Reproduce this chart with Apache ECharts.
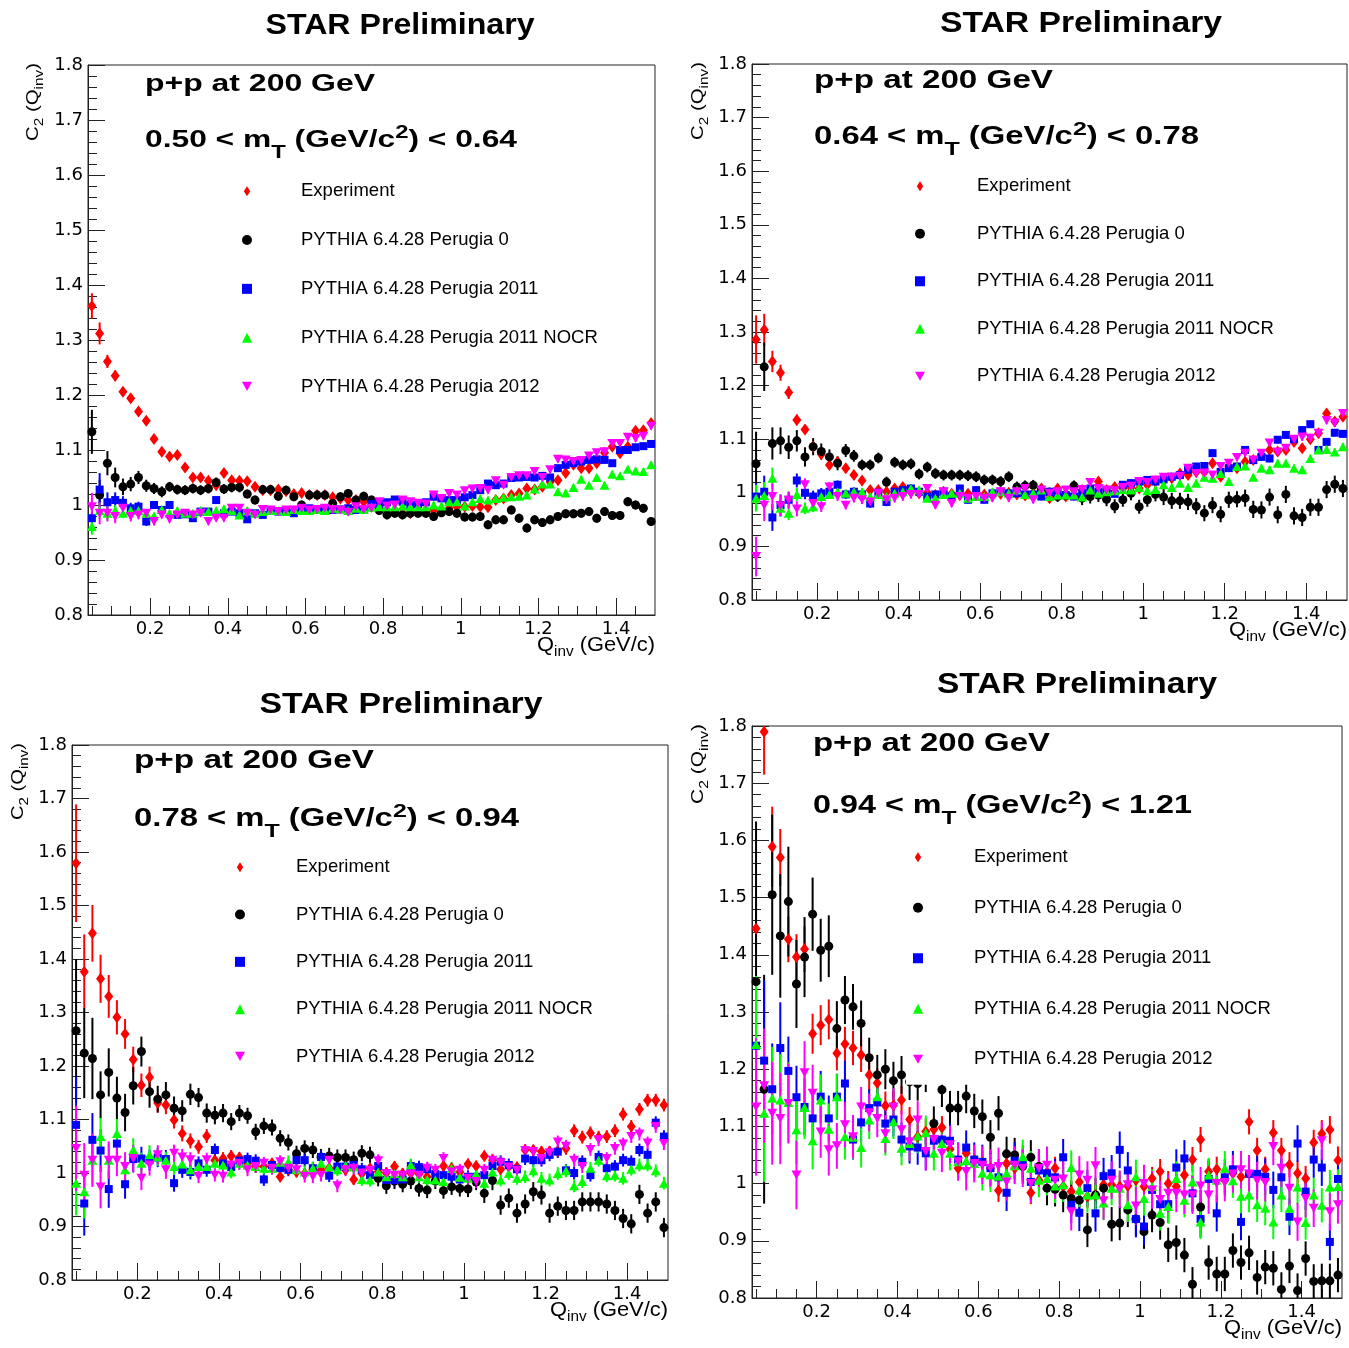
<!DOCTYPE html>
<html><head><meta charset="utf-8">
<script src="https://cdn.jsdelivr.net/npm/echarts@6/dist/echarts.min.js"></script>
<style>html,body{margin:0;padding:0;background:#fff}#c{width:1349px;height:1348px}</style>
</head><body><div id="c"></div>
<script>
// ---------------- DATA ----------------
const qBins = [0.05,0.07,0.09,0.11,0.13,0.15,0.17,0.19,0.21,0.23,
0.25,0.27,0.29,0.31,0.33,0.35,0.37,0.39,0.41,0.43,
0.45,0.47,0.49,0.51,0.53,0.55,0.57,0.59,0.61,0.63,
0.65,0.67,0.69,0.71,0.73,0.75,0.77,0.79,0.81,0.83,
0.85,0.87,0.89,0.91,0.93,0.95,0.97,0.99,1.01,1.03,
1.05,1.07,1.09,1.11,1.13,1.15,1.17,1.19,1.21,1.23,
1.25,1.27,1.29,1.31,1.33,1.35,1.37,1.39,1.41,1.43,
1.45,1.47,1.49];
const seriesNames = ['Experiment','PYTHIA 6.4.28 Perugia 0','PYTHIA 6.4.28 Perugia 2011','PYTHIA 6.4.28 Perugia 2011 NOCR','PYTHIA 6.4.28 Perugia 2012'];
const xMajorTicks = [0.2,0.4,0.6,0.8,1.0,1.2,1.4];
const xMinorTicks = [0.05,0.1,0.15,0.25,0.3,0.35,0.45,0.5,0.55,0.65,0.7,0.75,0.85,0.9,0.95,1.05,1.1,1.15,1.25,1.3,1.35,1.45];
const mtLow = ['0.50','0.64','0.78','0.94'];
const mtHigh = ['0.64','0.78','0.94','1.21'];

// Panel 1 : 0.50 < mT < 0.64
const p1Exp = [1.362,1.312,1.261,1.235,1.206,1.194,1.170,1.153,1.120,1.097,
1.088,1.091,1.068,1.050,1.050,1.044,1.036,1.058,1.045,1.044,
1.043,1.033,1.027,1.027,1.028,1.025,1.020,1.022,1.018,1.018,
1.018,1.014,1.012,1.009,1.009,1.006,1.005,0.994,0.990,0.988,
0.985,0.985,0.988,0.988,0.990,0.990,0.994,0.997,0.997,0.998,
0.997,0.996,1.009,1.012,1.018,1.021,1.030,1.028,1.033,1.042,
1.045,1.058,1.073,1.067,1.067,1.076,1.095,1.106,1.094,1.106,
1.135,1.136,1.149];
const p1P0 = [1.133,1.018,1.076,1.050,1.033,1.038,1.050,1.035,1.030,1.024,
1.033,1.028,1.027,1.030,1.027,1.030,1.041,1.029,1.032,1.032,
1.020,1.009,1.028,1.028,1.016,1.027,1.015,1.000,1.018,1.018,
1.018,1.003,1.015,1.021,1.009,1.016,1.009,0.990,0.982,0.985,
0.982,0.985,0.985,0.985,0.979,0.986,0.988,0.985,0.978,0.978,
0.979,0.964,0.973,0.973,0.991,0.976,0.958,0.973,0.968,0.973,
0.979,0.984,0.984,0.985,0.988,0.976,0.988,0.981,0.981,1.006,
1.000,0.994,0.970];
const p1P11 = [0.976,1.028,1.005,1.009,1.004,0.994,0.997,0.970,1.000,0.991,
1.000,0.982,0.983,0.976,0.988,0.988,1.009,0.985,0.988,0.985,
0.974,0.985,0.982,0.991,0.988,0.988,0.985,0.991,0.994,0.992,
0.994,0.991,0.992,0.994,0.991,0.992,1.002,1.002,1.005,1.010,
1.006,1.000,1.002,1.005,1.015,1.012,1.009,1.009,1.014,1.018,
1.027,1.039,1.036,1.039,1.049,1.050,1.051,1.050,1.053,1.050,
1.067,1.073,1.076,1.079,1.082,1.083,1.082,1.076,1.100,1.100,
1.105,1.107,1.111];
const p1NOCR = [0.961,0.990,0.985,0.990,0.985,0.990,0.990,0.985,0.980,0.992,
0.985,0.990,0.985,0.985,0.990,0.988,0.990,0.993,0.990,0.982,
0.990,0.985,0.988,0.990,0.990,0.988,0.992,0.990,0.990,0.992,
0.990,0.994,0.993,0.990,0.994,0.992,0.996,0.997,0.997,0.997,
0.998,0.997,0.997,0.997,1.000,0.998,1.006,1.006,0.998,1.006,
1.012,1.009,1.012,1.014,1.015,1.016,1.018,1.029,1.038,1.038,
1.024,1.022,1.032,1.047,1.036,1.050,1.036,1.056,1.053,1.065,
1.062,1.061,1.073];
const p1P12 = [0.997,0.985,0.985,0.979,0.994,0.979,0.982,0.985,0.970,0.982,
0.974,0.982,0.985,0.982,0.985,0.970,0.976,0.976,0.994,0.994,
0.985,0.982,0.992,0.991,0.988,0.991,0.991,0.994,0.991,0.992,
0.994,0.992,0.991,0.987,0.997,0.992,0.994,1.006,0.998,1.000,
1.009,1.006,1.003,1.002,1.018,1.012,1.021,1.018,1.026,1.029,
1.030,1.027,1.044,1.036,1.050,1.053,1.053,1.061,1.050,1.064,
1.083,1.082,1.079,1.081,1.089,1.095,1.097,1.112,1.112,1.123,
1.121,1.125,1.143];
const p1ExpErr = [.023,.020,.012,.010,.008,.008,.007,.007,.006,.006,
.005,.005,.005,.005,.005,.005,.005,.005,.005,.005,
.005,.005,.005,.005,.005,.005,.005,.005,.005,.005,
.005,.005,.005,.005,.005,.005,.005,.005,.005,.005,
.005,.005,.005,.005,.005,.005,.005,.005,.005,.005,
.005,.005,.005,.005,.005,.005,.005,.005,.005,.005,
.006,.006,.006,.006,.006,.006,.006,.006,.006,.006,
.006,.006,.006];
const p1P0Err = [.040,.028,.022,.018,.015,.013,.012,.011,.010,.010,
.009,.009,.009,.009,.009,.009,.009,.009,.009,.009,
.008,.008,.008,.008,.008,.008,.008,.008,.008,.008,
.008,.008,.008,.008,.008,.008,.008,.008,.008,.008,
.008,.008,.008,.008,.008,.008,.008,.008,.008,.008,
.008,.008,.008,.008,.008,.008,.008,.008,.008,.008,
.008,.008,.008,.008,.008,.008,.008,.008,.008,.008,
.008,.008,.008];
const p1P11Err = [.012,.030,.018,.014,.012,.010,.009,.008,.007,.007,
.006,.006,.006,.006,.006,.006,.006,.006,.006,.006,
.006,.006,.006,.006,.006,.006,.006,.006,.006,.006,
.006,.006,.006,.006,.006,.006,.006,.006,.006,.006,
.006,.006,.006,.006,.006,.006,.006,.006,.006,.006,
.006,.006,.006,.006,.006,.006,.006,.006,.006,.006,
.006,.006,.006,.006,.006,.006,.006,.006,.006,.006,
.006,.006,.006];
const p1NOCRErr = [.015,.014,.012,.010,.009,.008,.007,.007,.006,.006,
.006,.006,.006,.006,.006,.006,.006,.006,.006,.006,
.006,.006,.006,.006,.006,.006,.006,.006,.006,.006,
.006,.006,.006,.006,.006,.006,.006,.006,.006,.006,
.006,.006,.006,.006,.006,.006,.006,.006,.006,.006,
.006,.006,.006,.006,.006,.006,.006,.006,.006,.006,
.006,.006,.006,.006,.006,.006,.006,.006,.006,.006,
.006,.006,.006];
const p1P12Err = [.025,.020,.015,.012,.010,.009,.008,.007,.007,.006,
.006,.006,.006,.006,.006,.006,.006,.006,.006,.006,
.006,.006,.006,.006,.006,.006,.006,.006,.006,.006,
.006,.006,.006,.006,.006,.006,.006,.006,.006,.006,
.006,.006,.006,.006,.006,.006,.006,.006,.006,.006,
.006,.006,.006,.006,.006,.006,.006,.006,.006,.006,
.006,.006,.006,.006,.006,.006,.006,.006,.006,.006,
.006,.006,.006];

// Panel 2 : 0.64 < mT < 0.78
const p2Exp = [1.286,1.304,1.245,1.224,1.187,1.136,1.118,1.086,1.072,1.052,
1.058,1.046,1.033,1.023,1.005,1.005,1.002,1.008,1.011,1.002,
0.999,1.000,0.996,1.002,0.998,0.996,0.998,1.000,0.997,0.996,
0.998,1.000,0.997,0.995,0.998,1.008,0.990,1.008,0.993,1.006,
1.005,0.999,1.021,1.005,1.011,1.008,1.010,1.008,1.015,1.021,
1.024,1.027,1.036,1.033,1.039,1.039,1.055,1.030,1.049,1.046,
1.058,1.061,1.070,1.080,1.077,1.080,1.095,1.083,1.100,1.111,
1.148,1.133,1.142];
const p2P0 = [1.054,1.235,1.092,1.097,1.085,1.097,1.067,1.086,1.077,1.067,
1.055,1.079,1.069,1.052,1.052,1.065,1.020,1.057,1.052,1.054,
1.035,1.048,1.036,1.033,1.033,1.033,1.032,1.030,1.024,1.024,
1.021,1.030,1.011,1.013,1.014,1.005,1.000,0.993,0.995,1.013,
0.990,0.993,0.996,0.988,0.975,0.987,0.999,0.974,0.987,0.997,
0.992,0.985,0.985,0.983,0.975,0.962,0.977,0.960,0.987,0.988,
0.990,0.969,0.968,0.992,0.959,0.997,0.957,0.954,0.973,0.973,
1.006,1.016,1.008];
const p2P11 = [0.993,1.002,0.954,0.977,0.987,1.023,1.000,0.993,0.999,1.002,
1.015,0.997,1.002,0.997,0.980,1.000,0.983,1.002,1.005,1.008,
1.002,0.993,0.997,1.002,0.993,1.008,0.987,1.005,0.987,0.999,
1.002,0.999,0.999,0.997,0.997,0.993,1.002,0.999,0.996,0.993,
0.999,1.008,1.002,1.004,0.998,1.015,1.018,1.021,1.024,1.021,
1.025,1.030,1.033,1.043,1.049,1.050,1.074,1.039,1.046,1.049,
1.080,1.061,1.067,1.064,1.099,1.108,1.100,1.117,1.128,1.080,
1.095,1.112,1.110];
const p2NOCR = [0.990,0.995,1.027,0.971,0.962,0.997,0.971,0.974,0.993,0.997,
1.002,0.999,1.002,1.002,0.993,0.997,0.993,0.999,1.002,1.008,
1.005,0.990,0.990,0.997,0.999,0.999,0.990,0.993,0.993,1.002,
1.002,0.999,1.005,0.997,0.999,1.005,0.993,0.996,0.996,0.996,
0.992,1.005,0.999,1.002,1.004,1.006,1.005,1.010,1.004,1.006,
1.015,1.010,1.018,1.010,1.018,1.029,1.027,1.036,1.021,1.049,
1.050,1.029,1.046,1.043,1.055,1.055,1.046,1.043,1.064,1.080,
1.081,1.076,1.086];
const p2P12 = [0.881,0.977,0.993,0.976,0.986,0.970,1.015,0.980,0.974,1.011,
0.993,0.977,0.990,0.987,0.983,0.999,0.987,0.990,0.993,0.997,
0.997,1.008,0.977,1.002,0.980,0.993,0.990,0.993,0.990,0.990,
1.002,0.990,1.002,1.008,0.987,1.005,0.999,1.002,1.005,1.002,
1.006,1.019,1.008,1.005,1.004,1.010,1.012,1.021,1.019,1.024,
1.029,1.029,1.031,1.046,1.036,1.037,1.033,1.049,1.055,1.066,
1.074,1.061,1.074,1.093,1.076,1.083,1.100,1.104,1.102,1.111,
1.135,1.130,1.148];
const p2ExpErr = [.045,.030,.020,.015,.012,.010,.009,.008,.007,.007,
.006,.006,.006,.006,.006,.006,.006,.006,.006,.006,
.005,.005,.005,.005,.005,.005,.005,.005,.005,.005,
.005,.005,.005,.005,.005,.005,.005,.005,.005,.005,
.005,.005,.005,.005,.005,.005,.005,.005,.005,.005,
.005,.005,.005,.005,.005,.005,.005,.005,.005,.005,
.006,.006,.006,.006,.006,.006,.006,.006,.006,.006,
.006,.006,.006];
const p2P0Err = [.060,.045,.030,.025,.022,.020,.018,.016,.015,.014,
.013,.012,.011,.010,.010,.010,.010,.010,.010,.010,
.010,.010,.010,.010,.010,.010,.010,.010,.010,.010,
.010,.010,.010,.010,.010,.010,.010,.010,.010,.010,
.013,.013,.013,.013,.013,.013,.013,.013,.013,.013,
.015,.015,.015,.015,.015,.015,.015,.015,.015,.015,
.016,.016,.016,.016,.016,.016,.016,.016,.016,.016,
.016,.016,.016];
const p2P11Err = [.025,.030,.025,.020,.015,.013,.012,.011,.010,.009,
.008,.008,.008,.008,.008,.008,.008,.008,.008,.008,
.007,.007,.007,.007,.007,.007,.007,.007,.007,.007,
.007,.007,.007,.007,.007,.007,.007,.007,.007,.007,
.007,.007,.007,.007,.007,.007,.007,.007,.007,.007,
.007,.007,.007,.007,.007,.007,.007,.007,.007,.007,
.007,.007,.007,.007,.007,.007,.007,.007,.007,.007,
.007,.007,.007];
const p2NOCRErr = [.025,.025,.020,.016,.013,.012,.011,.010,.009,.008,
.007,.007,.007,.007,.007,.007,.007,.007,.007,.007,
.007,.007,.007,.007,.007,.007,.007,.007,.007,.007,
.007,.007,.007,.007,.007,.007,.007,.007,.007,.007,
.007,.007,.007,.007,.007,.007,.007,.007,.007,.007,
.007,.007,.007,.007,.007,.007,.007,.007,.007,.007,
.007,.007,.007,.007,.007,.007,.007,.007,.007,.007,
.007,.007,.007];
const p2P12Err = [.037,.030,.025,.020,.016,.014,.012,.011,.010,.009,
.008,.008,.008,.008,.008,.008,.008,.008,.008,.008,
.007,.007,.007,.007,.007,.007,.007,.007,.007,.007,
.007,.007,.007,.007,.007,.007,.007,.007,.007,.007,
.007,.007,.007,.007,.007,.007,.007,.007,.007,.007,
.007,.007,.007,.007,.007,.007,.007,.007,.007,.007,
.007,.007,.007,.007,.007,.007,.007,.007,.007,.007,
.007,.007,.007];

// Panel 3 : 0.78 < mT < 0.94
const p3Exp = [1.579,1.376,1.448,1.363,1.330,1.291,1.260,1.212,1.164,1.179,
1.131,1.127,1.099,1.074,1.060,1.049,1.069,1.024,1.027,1.032,
1.029,1.018,1.012,1.012,1.018,0.993,1.006,1.002,0.999,1.006,
1.006,1.009,1.009,1.006,0.988,0.999,1.009,1.002,1.000,1.012,
0.999,1.000,0.998,0.993,0.999,1.013,1.009,1.002,1.017,1.013,
1.032,1.024,1.007,1.012,1.011,1.043,1.043,1.040,1.040,1.040,
1.046,1.079,1.067,1.075,1.067,1.068,1.079,1.110,1.087,1.119,
1.136,1.136,1.127];
const p3P0 = [1.266,1.224,1.214,1.146,1.188,1.140,1.113,1.163,1.227,1.152,
1.138,1.146,1.121,1.116,1.147,1.141,1.112,1.108,1.112,1.096,
1.112,1.107,1.077,1.088,1.085,1.065,1.057,1.036,1.046,1.043,
1.030,1.032,1.029,1.029,1.025,1.037,1.034,0.990,0.976,0.985,
0.979,0.985,0.971,0.968,0.985,0.967,0.974,0.971,0.970,0.983,
0.962,0.986,0.940,0.953,0.925,0.942,0.965,0.959,0.925,0.938,
0.930,0.930,0.946,0.946,0.946,0.942,0.930,0.915,0.905,0.960,
0.925,0.946,0.898];
const p3P11 = [1.090,0.943,1.062,1.042,0.970,1.055,0.979,1.026,1.027,1.024,
1.029,1.026,0.981,1.006,1.002,1.018,1.006,1.043,1.018,1.011,
1.023,1.026,1.023,0.988,1.015,1.009,1.006,1.024,1.024,1.009,
1.030,0.995,1.012,1.012,1.015,1.007,0.996,1.013,0.987,0.987,
0.988,1.013,1.011,1.007,0.998,0.996,0.993,0.988,0.993,0.993,
0.996,1.013,1.021,1.015,1.007,1.027,1.024,1.024,1.034,1.040,
1.005,1.000,1.021,0.996,1.030,1.009,1.012,1.024,1.021,1.043,
1.034,1.094,1.068];
const p3NOCR = [0.981,0.965,1.024,1.068,1.024,1.074,1.006,1.043,1.018,1.034,
1.030,1.024,1.012,1.017,1.006,1.012,1.012,1.018,1.015,1.002,
1.018,1.015,1.012,1.009,1.009,1.020,1.021,1.006,1.002,1.009,
1.018,1.011,1.006,1.014,1.011,0.988,0.987,1.002,0.993,0.999,
0.993,1.015,0.993,0.988,0.987,0.984,1.009,0.992,0.990,0.998,
0.981,1.002,0.987,0.999,0.990,0.993,1.004,0.990,0.987,0.999,
1.004,0.976,0.984,1.009,1.024,0.995,0.996,0.990,1.007,1.015,
1.015,1.004,0.981];
const p3P12 = [1.046,0.996,1.024,0.974,1.024,1.024,1.012,1.027,0.990,1.015,
1.034,1.006,1.037,1.030,1.025,0.994,1.025,0.996,0.994,1.015,
1.018,1.006,1.012,1.018,1.009,1.021,1.009,1.006,0.994,0.993,
0.996,1.024,0.976,1.006,1.009,1.000,1.005,1.023,0.999,0.996,
0.996,0.998,0.996,1.009,1.005,1.027,1.002,1.005,0.990,0.984,
1.005,1.024,1.019,1.011,1.005,1.042,1.040,1.027,1.038,1.058,
1.050,1.024,1.012,1.044,1.062,1.027,1.046,1.054,1.068,1.073,
1.056,1.087,1.055];
const p3ExpErr = [.110,.070,.053,.045,.040,.032,.028,.024,.022,.020,
.018,.017,.016,.015,.014,.013,.013,.012,.012,.011,
.010,.010,.010,.010,.010,.010,.010,.010,.010,.010,
.010,.010,.010,.010,.010,.010,.010,.010,.010,.010,
.010,.010,.010,.010,.010,.010,.010,.010,.010,.010,
.010,.010,.010,.010,.010,.010,.010,.010,.010,.010,
.012,.012,.012,.012,.012,.012,.012,.012,.012,.012,
.012,.012,.012];
const p3P0Err = [.134,.084,.076,.044,.045,.040,.035,.035,.028,.030,
.025,.024,.022,.020,.020,.018,.018,.017,.017,.016,
.015,.015,.015,.015,.015,.015,.015,.015,.015,.015,
.015,.015,.015,.015,.015,.015,.015,.015,.015,.015,
.015,.015,.015,.015,.015,.015,.015,.015,.015,.015,
.018,.018,.018,.018,.018,.018,.018,.018,.018,.018,
.018,.018,.018,.018,.018,.018,.018,.018,.018,.018,
.018,.018,.018];
const p3P11Err = [.090,.060,.050,.040,.035,.030,.027,.025,.022,.020,
.018,.017,.016,.015,.014,.013,.013,.012,.012,.012,
.012,.012,.012,.012,.012,.012,.012,.012,.012,.012,
.012,.012,.012,.012,.012,.012,.012,.012,.012,.012,
.012,.012,.012,.012,.012,.012,.012,.012,.012,.012,
.012,.012,.012,.012,.012,.012,.012,.012,.012,.012,
.012,.012,.012,.012,.012,.012,.012,.012,.012,.012,
.012,.012,.012];
const p3NOCRErr = [.060,.050,.045,.035,.030,.027,.025,.022,.020,.018,
.017,.016,.015,.014,.013,.012,.012,.012,.012,.012,
.012,.012,.012,.012,.012,.012,.012,.012,.012,.012,
.012,.012,.012,.012,.012,.012,.012,.012,.012,.012,
.012,.012,.012,.012,.012,.012,.012,.012,.012,.012,
.012,.012,.012,.012,.012,.012,.012,.012,.012,.012,
.012,.012,.012,.012,.012,.012,.012,.012,.012,.012,
.012,.012,.012];
const p3P12Err = [.080,.060,.050,.040,.035,.030,.027,.025,.022,.020,
.018,.017,.016,.015,.014,.013,.013,.012,.012,.012,
.012,.012,.012,.012,.012,.012,.012,.012,.012,.012,
.012,.012,.012,.012,.012,.012,.012,.012,.012,.012,
.012,.012,.012,.012,.012,.012,.012,.012,.012,.012,
.012,.012,.012,.012,.012,.012,.012,.012,.012,.012,
.012,.012,.012,.012,.012,.012,.012,.012,.012,.012,
.012,.012,.012];

// Panel 4 : 0.94 < mT < 1.21
const p4Exp = [1.446,1.790,1.589,1.570,1.427,1.396,1.410,1.262,1.277,1.287,
1.228,1.244,1.237,1.225,1.190,1.176,1.136,1.137,1.146,1.112,
1.082,1.091,1.095,1.098,1.060,1.027,1.053,1.041,1.037,1.027,
0.988,1.035,1.027,1.030,0.984,1.006,1.020,1.027,0.995,0.986,
1.003,0.977,0.980,0.998,0.998,0.995,0.996,1.006,0.995,1.009,
1.021,1.000,0.995,1.015,1.042,1.077,1.021,1.025,1.006,1.018,
1.012,1.108,1.058,1.025,1.089,1.058,1.033,1.018,1.009,1.072,
1.087,1.094,1.041];
const p4P0 = [1.353,1.165,1.505,1.433,1.493,1.349,1.396,1.471,1.408,1.415,
1.271,1.321,1.309,1.280,1.220,1.190,1.200,1.180,1.190,1.178,
1.175,1.190,1.105,1.164,1.132,1.132,1.153,1.127,1.117,1.081,
1.123,1.052,1.050,1.030,1.046,1.030,0.992,0.990,0.980,0.974,
0.971,0.919,0.980,0.992,0.929,0.931,0.954,0.938,0.916,0.945,
0.932,0.893,0.897,0.875,0.824,0.959,0.862,0.842,0.842,0.883,
0.862,0.879,0.836,0.854,0.852,0.815,0.856,0.813,0.869,0.829,
0.830,0.830,0.840];
const p4P11 = [1.241,1.215,1.165,1.237,1.197,1.151,1.134,1.114,1.152,1.114,
1.152,1.175,1.077,1.107,1.132,1.142,1.105,1.112,1.077,1.065,
1.063,1.053,1.075,1.077,1.075,1.042,1.063,1.042,1.038,1.027,
1.011,0.984,1.040,1.035,1.003,1.023,1.018,1.011,1.046,0.963,
0.949,0.992,0.948,1.013,1.018,1.059,1.023,0.938,0.925,0.989,
0.964,0.964,1.028,1.044,0.983,0.938,1.008,0.948,1.011,1.025,
0.933,1.017,1.017,1.012,0.989,1.011,0.942,1.070,0.986,1.042,
1.028,0.898,1.008];
const p4NOCR = [1.243,1.123,1.149,1.146,1.142,1.094,1.133,1.075,1.146,1.095,
1.152,1.082,1.081,1.063,1.111,1.152,1.079,1.108,1.062,1.070,
1.083,1.089,1.053,1.070,1.053,1.038,1.040,1.035,1.018,1.015,
1.013,1.018,1.031,1.047,1.027,1.006,1.009,0.996,0.998,1.028,
0.989,0.980,0.980,0.966,0.992,0.992,0.963,1.012,0.974,0.995,
0.948,0.960,1.009,0.971,1.003,0.933,1.015,1.006,1.027,1.005,
0.978,0.980,0.963,0.957,0.933,0.980,0.957,0.994,0.932,0.980,
0.962,0.994,0.995];
const p4P12 = [1.134,1.171,1.123,1.114,1.140,1.015,1.194,1.158,1.090,1.059,
1.066,1.103,1.082,1.134,1.124,1.114,1.087,1.134,1.094,1.073,
1.111,1.056,1.077,1.053,1.068,1.038,1.021,1.035,1.032,1.027,
1.030,1.003,1.032,1.027,1.000,1.027,1.032,1.006,1.008,0.951,
1.015,1.006,1.031,0.970,1.006,0.990,0.998,0.961,1.000,0.989,
0.972,0.983,0.983,0.980,0.980,0.996,0.980,1.000,1.002,1.017,
1.024,1.017,1.005,1.002,1.065,1.027,0.992,0.933,0.974,0.957,
1.075,0.951,0.963];
const p4ExpErr = [.045,.075,.070,.050,.040,.040,.040,.035,.035,.035,
.030,.030,.030,.030,.028,.025,.025,.025,.025,.022,
.022,.022,.020,.020,.020,.020,.020,.020,.020,.020,
.020,.020,.020,.020,.020,.020,.020,.020,.020,.020,
.020,.020,.020,.020,.020,.020,.020,.020,.020,.020,
.022,.022,.022,.022,.022,.022,.022,.022,.022,.022,
.022,.022,.022,.022,.022,.022,.022,.022,.022,.022,
.024,.024,.024];
const p4P0Err = [.280,.200,.140,.108,.096,.077,.070,.064,.055,.054,
.048,.042,.040,.040,.035,.035,.035,.033,.033,.032,
.030,.030,.030,.030,.030,.030,.030,.030,.030,.030,
.030,.030,.030,.030,.030,.030,.030,.030,.030,.030,
.030,.030,.030,.030,.030,.030,.030,.030,.030,.030,
.030,.030,.030,.030,.030,.030,.030,.030,.030,.030,
.030,.030,.030,.030,.030,.030,.030,.030,.030,.030,
.030,.030,.030];
const p4P11Err = [.100,.140,.080,.080,.060,.055,.050,.045,.045,.040,
.040,.040,.035,.035,.033,.030,.030,.030,.030,.030,
.030,.030,.030,.030,.030,.030,.030,.030,.030,.030,
.032,.032,.032,.032,.032,.032,.032,.032,.032,.032,
.032,.032,.032,.032,.032,.032,.032,.032,.032,.032,
.032,.032,.032,.032,.032,.032,.032,.032,.032,.032,
.032,.032,.032,.032,.032,.032,.032,.032,.032,.032,
.032,.032,.032];
const p4NOCRErr = [.120,.120,.090,.080,.070,.060,.055,.050,.045,.045,
.040,.040,.038,.035,.033,.030,.030,.030,.030,.030,
.030,.030,.030,.030,.030,.030,.030,.030,.030,.030,
.030,.030,.030,.030,.030,.030,.030,.030,.030,.030,
.030,.030,.030,.030,.030,.030,.030,.030,.030,.030,
.030,.030,.030,.030,.030,.030,.030,.030,.030,.030,
.030,.030,.030,.030,.030,.030,.030,.030,.030,.030,
.030,.030,.030];
const p4P12Err = [.120,.100,.090,.080,.070,.060,.055,.050,.045,.045,
.040,.040,.038,.035,.033,.033,.033,.033,.033,.033,
.033,.033,.033,.033,.033,.033,.033,.033,.033,.033,
.033,.033,.033,.033,.033,.033,.033,.033,.033,.033,
.033,.033,.033,.033,.033,.033,.033,.033,.033,.033,
.033,.033,.033,.033,.033,.033,.033,.033,.033,.033,
.033,.033,.033,.033,.033,.033,.033,.033,.033,.033,
.033,.033,.033];

// ---------------- LAYOUT / STYLE ----------------
const panels = [
  {vals:[p1Exp,p1P0,p1P11,p1NOCR,p1P12], errs:[p1ExpErr,p1P0Err,p1P11Err,p1NOCRErr,p1P12Err],
   grid:{left:88,top:65,width:567,height:550},
   title:{x:400,y:26,w:269}, h1:{x:145,y:84,w:230,fs:24}, h2:{y:140,w:372},
   legend:{left:242,top:181.75,gap:29.8,pad:44,padBox:0,bg:false},
   ytitle:{x:34,y:63,w:78}},
  {vals:[p2Exp,p2P0,p2P11,p2NOCR,p2P12], errs:[p2ExpErr,p2P0Err,p2P11Err,p2NOCRErr,p2P12Err],
   grid:{left:752,top:64,width:595,height:536},
   title:{x:1081,y:24,w:282}, h1:{x:814,y:81,w:239,fs:25}, h2:{y:137,w:385},
   legend:{left:915,top:176.75,gap:28.5,pad:47,padBox:0,bg:false},
   ytitle:{x:699,y:62,w:78}},
  {vals:[p3Exp,p3P0,p3P11,p3NOCR,p3P12], errs:[p3ExpErr,p3P0Err,p3P11Err,p3NOCRErr,p3P12Err],
   grid:{left:72,top:745,width:596,height:535},
   title:{x:401,y:705,w:283}, h1:{x:134,y:761,w:240,fs:25}, h2:{y:819,w:385},
   legend:{left:235,top:857.75,gap:28.3,pad:46,padBox:0,bg:false},
   ytitle:{x:19,y:743,w:77}},
  {vals:[p4Exp,p4P0,p4P11,p4NOCR,p4P12], errs:[p4ExpErr,p4P0Err,p4P11Err,p4NOCRErr,p4P12Err],
   grid:{left:752,top:726,width:590,height:572},
   title:{x:1077,y:685,w:280}, h1:{x:813,y:744,w:237,fs:25}, h2:{y:806,w:379},
   legend:{left:906,top:822.75,gap:31.5,pad:46,padBox:7,bg:true},
   ytitle:{x:699,y:724,w:80}}
];
const marks = [
  {symbol:'diamond', size:[9,12], color:'#ff0000', rot:0},
  {symbol:'circle', size:9, color:'#000000', rot:0},
  {symbol:'rect', size:8, color:'#0000ff', rot:0},
  {symbol:'triangle', size:[10,9], color:'#00ff00', rot:0},
  {symbol:'triangle', size:[10,9], color:'#ff00ff', rot:180}
];

panels.forEach((p,pi)=>{ p.vals.concat(p.errs).forEach((a,ai)=>{ if(a.length!==qBins.length) throw new Error('panel '+(pi+1)+' array '+ai+' has length '+a.length); }); });

// text helpers
const mctx = document.createElement('canvas').getContext('2d');
const FAM = '"Liberation Sans", Arial, sans-serif';
function fontStr(s,b){ return (b?'bold ':'') + s + 'px ' + FAM; }
function natW(pt){ mctx.font = fontStr(pt.s, pt.b); return mctx.measureText(pt.t).width; }
function run(parts, x, y, targetW, align){
  const ws = parts.map(natW); const tot = ws.reduce((a,b)=>a+b,0);
  const k = targetW ? targetW/tot : 1;
  let cx = align==='right' ? x - tot*k : (align==='center' ? x - tot*k/2 : x);
  return parts.map((pt,i)=>{
    const el = {type:'text', x:cx, y:y+(pt.dy||0), scaleX:k, z:50,
      style:{text:pt.t, font:fontStr(pt.s,pt.b), fill:'#000', align:'left', verticalAlign:'middle'}};
    cx += ws[i]*k; return el;
  });
}

const grids=[], xAxes=[], yAxes=[], series=[], legends=[], gels=[];
const LBL = {fontFamily:'"DejaVu Sans", sans-serif', fontSize:18, color:'#000'};
const legendIcons = ['path://M7,0 L14,11 L7,22 L0,11 Z', null, null, null, 'path://M0,0 L12,0 L6,11 Z'];
const legendData = seriesNames.map((n,i)=> legendIcons[i] ? {name:n, icon:legendIcons[i]} : {name:n});
panels.forEach((p,g)=>{
  grids.push({left:p.grid.left, top:p.grid.top, width:p.grid.width, height:p.grid.height,
    show:true, borderColor:'#222', borderWidth:1, backgroundColor:'transparent', containLabel:false});
  xAxes.push({type:'value', gridIndex:g, min:0.04, max:1.5, position:'bottom',
    axisLine:{show:true, onZero:false, lineStyle:{color:'#222', width:1}},
    axisTick:{show:true, inside:true, length:17, customValues:xMajorTicks, lineStyle:{color:'#222'}},
    axisLabel:Object.assign({show:true, margin:5, customValues:xMajorTicks,
      formatter:v=>String(Math.round(v*10)/10)}, LBL),
    splitLine:{show:false}});
  xAxes.push({type:'value', gridIndex:g, min:0.04, max:1.5, position:'bottom',
    axisLine:{show:false, onZero:false},
    axisTick:{show:true, inside:true, length:9, customValues:xMinorTicks, lineStyle:{color:'#222'}},
    axisLabel:{show:false}, splitLine:{show:false}});
  yAxes.push({type:'value', gridIndex:g, min:0.8, max:1.8, interval:0.1,
    axisLine:{show:true, onZero:false, lineStyle:{color:'#222', width:1}},
    axisTick:{show:true, inside:true, length:17, lineStyle:{color:'#222'}},
    minorTick:{show:true, splitNumber:5, length:9, lineStyle:{color:'#222'}},
    axisLabel:Object.assign({show:true, margin:5, formatter:v=>String(Math.round(v*10)/10)}, LBL),
    splitLine:{show:false}, minorSplitLine:{show:false}});
  p.vals.forEach((vals,s)=>{
    const m = marks[s]; const errs = p.errs[s];
    series.push({type:'custom', xAxisIndex:2*g, yAxisIndex:g, silent:true, z:2,
      encode:{x:0, y:[1,2]},
      data: qBins.map((q,i)=>[q, vals[i]-errs[i], vals[i]+errs[i]]),
      renderItem:(params, api)=>{
        const a = api.coord([api.value(0), api.value(1)]);
        const b = api.coord([api.value(0), api.value(2)]);
        const cs = params.coordSys; const t = cs.y, bt = cs.y + cs.height;
        const y1 = Math.min(Math.max(a[1], t), bt), y2 = Math.min(Math.max(b[1], t), bt);
        if (Math.abs(y1-y2) < 0.5) return null;
        return {type:'line', shape:{x1:a[0], y1:y1, x2:a[0], y2:y2}, style:{stroke:m.color, lineWidth:2}};
      }});
    series.push({type:'scatter', name:seriesNames[s], xAxisIndex:2*g, yAxisIndex:g, z:2,
      symbol:m.symbol, symbolSize:m.size, symbolRotate:m.rot, clip:true,
      itemStyle:{color:m.color, opacity:1},
      emphasis:{disabled:true},
      data: qBins.map((q,i)=>[q, vals[i]])});
  });
  legends.push({show:true, orient:'vertical', left:p.legend.left, top:p.legend.top,
    itemWidth:10, itemHeight:10, itemGap:p.legend.gap, selectedMode:false, symbolKeepAspect:true,
    symbolRotate:0,
    padding: p.legend.bg ? [25,12,16,p.legend.padBox] : 0,
    backgroundColor: p.legend.bg ? '#ffffff' : 'transparent',
    data: legendData,
    textStyle:{fontFamily:FAM, fontSize:18.5, color:'#000', padding:[0,0,0,p.legend.pad]}});
  // texts
  gels.push(...run([{t:'STAR Preliminary', s:30, b:true}], p.title.x, p.title.y, p.title.w, 'center'));
  const fs = p.h1.fs, sub = Math.round(fs*0.75);
  gels.push(...run([{t:'p+p at 200 GeV', s:fs, b:true}], p.h1.x, p.h1.y, p.h1.w, 'left'));
  gels.push(...run([
    {t:mtLow[g]+' < m', s:fs, b:true},
    {t:'T', s:sub, b:true, dy:13},
    {t:' (GeV/c', s:fs, b:true},
    {t:'2', s:sub, b:true, dy:-7},
    {t:') < '+mtHigh[g], s:fs, b:true}], p.h1.x, p.h2.y, p.h2.w, 'left'));
  // x axis title
  const gr = p.grid;
  gels.push(...run([{t:'Q', s:20}, {t:'inv', s:14, dy:7}, {t:' (GeV/c)', s:20}],
    gr.left+gr.width, gr.top+gr.height+30, 118, 'right'));
  // y axis title (rotated)
  gels.push({type:'group', x:p.ytitle.x, y:p.ytitle.y, rotation:Math.PI/2, z:50,
    children: run([{t:'C', s:16}, {t:'2', s:12, dy:6}, {t:' (Q', s:16}, {t:'inv', s:12, dy:6}, {t:')', s:16}],
      0, 0, p.ytitle.w, 'right')});
});

const chart = echarts.init(document.getElementById('c'), null, {renderer:'canvas'});
chart.setOption({
  animation:false, backgroundColor:'#ffffff',
  grid:grids, xAxis:xAxes, yAxis:yAxes, series:series, legend:legends,
  graphic:{elements:gels}
});
</script></body></html>
